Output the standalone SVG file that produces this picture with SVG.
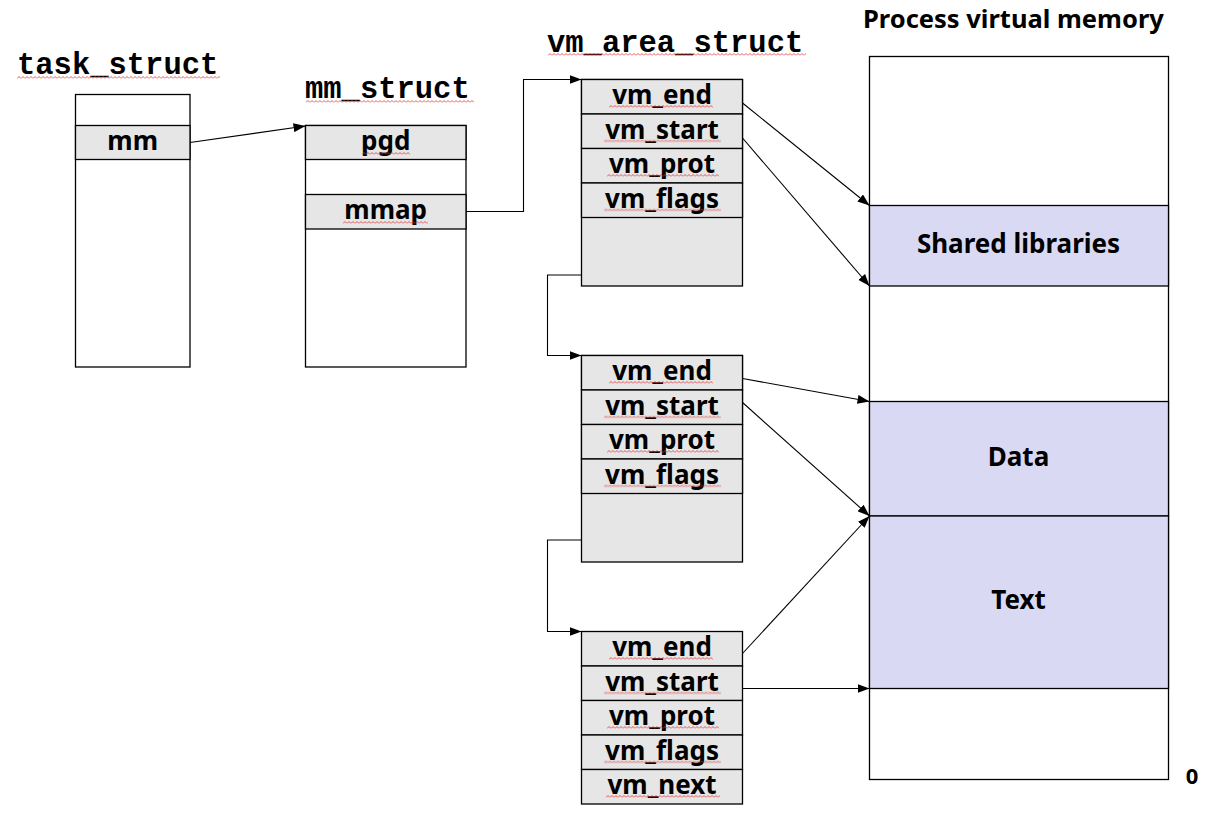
<svg xmlns="http://www.w3.org/2000/svg" xmlns:xlink="http://www.w3.org/1999/xlink" width="1221" height="819" viewBox="0 0 1221 819">
  <style>
    .cell { stroke: #000; stroke-width: 1.3; }
    .gray { fill: #e6e6e6; }
    .white { fill: #fff; }
    .seg { fill: #d9d9f4; }
    .title { font-family: "Liberation Mono", "Courier New", monospace; font-weight: bold; font-size: 30.5px; fill: #000; }
    .lbl { font-family: "Noto Sans", "Open Sans", sans-serif; font-weight: bold; font-size: 26px; fill: #000; text-anchor: middle; }
    .head { font-family: "Noto Sans", "Open Sans", sans-serif; font-weight: bold; font-size: 25.5px; fill: #000; }
    .conn { fill: none; stroke: #000; stroke-width: 1.1; }
    .sq { fill: url(#squiggle); }
  </style>
  <defs>
    <marker id="arrow" viewBox="0 0 12 9" refX="12" refY="4.5" markerWidth="12" markerHeight="9" markerUnits="userSpaceOnUse" orient="auto">
      <path d="M0,0 L12,4.5 L0,9 Z" fill="#000"/>
    </marker>
    <!-- spell-check style wavy underline -->
    <pattern id="squiggle" patternUnits="userSpaceOnUse" width="4" height="3">
      <path d="M0,2.5 L2,0.5 L4,2.5" fill="none" stroke="#e03030" stroke-width="0.8"/>
    </pattern>
    <rect id="row" width="161" height="34.5" class="cell gray"/>
  </defs>

  <rect width="1221" height="819" fill="#fff"/>

  <!-- titles -->
  <text class="title" x="17" y="74">task_struct</text>
  <g transform="translate(17,76)"><rect class="sq" width="203" height="3"/></g>
  <text class="title" x="305" y="98">mm_struct</text>
  <g transform="translate(306,100)"><rect class="sq" width="168" height="3"/></g>
  <text class="title" x="547" y="52">vm_area_struct</text>
  <g transform="translate(548,53)"><rect class="sq" width="258" height="3"/></g>
  <text class="head" x="863" y="28">Process virtual memory</text>

  <!-- task_struct -->
  <g id="task_struct">
    <rect class="cell white" x="75.5" y="94.5" width="114.5" height="272.5"/>
    <rect class="cell gray" x="75.5" y="125.5" width="114.5" height="34"/>
    <text class="lbl" x="132.7" y="150">mm</text>
  </g>

  <!-- mm_struct -->
  <g id="mm_struct">
    <rect class="cell white" x="305.5" y="125.5" width="160.5" height="241.5"/>
    <rect class="cell gray" x="305.5" y="125.5" width="160.5" height="34"/>
    <rect class="cell gray" x="305.5" y="194.5" width="160.5" height="34.5"/>
    <text class="lbl" x="385.7" y="150">pgd</text>
    <text class="lbl" x="385.7" y="219">mmap</text>
    <g transform="translate(362,152)"><rect class="sq" width="48" height="3"/></g>
    <g transform="translate(343,221)"><rect class="sq" width="85" height="3"/></g>
  </g>

  <!-- vm_area_struct #1 -->
  <g id="vma1">
    <rect class="cell gray" x="581.5" y="79.5" width="161" height="206.5"/>
    <use href="#row" x="581.5" y="79.5"/>
    <use href="#row" x="581.5" y="114"/>
    <use href="#row" x="581.5" y="148.5"/>
    <use href="#row" x="581.5" y="183"/>
    <text class="lbl" x="662" y="104">vm_end</text>
    <text class="lbl" x="662" y="138.5">vm_start</text>
    <text class="lbl" x="662" y="173">vm_prot</text>
    <text class="lbl" x="662" y="207.5">vm_flags</text>
    <g transform="translate(609,105)"><rect class="sq" width="104" height="3"/></g>
    <g transform="translate(604,139.5)"><rect class="sq" width="117" height="3"/></g>
    <g transform="translate(607,174)"><rect class="sq" width="112" height="3"/></g>
    <g transform="translate(604,208.5)"><rect class="sq" width="117" height="3"/></g>
  </g>

  <!-- vm_area_struct #2 -->
  <g id="vma2">
    <rect class="cell gray" x="581.5" y="355.5" width="161" height="206.5"/>
    <use href="#row" x="581.5" y="355.5"/>
    <use href="#row" x="581.5" y="390"/>
    <use href="#row" x="581.5" y="424.5"/>
    <use href="#row" x="581.5" y="459"/>
    <text class="lbl" x="662" y="380">vm_end</text>
    <text class="lbl" x="662" y="414.5">vm_start</text>
    <text class="lbl" x="662" y="449">vm_prot</text>
    <text class="lbl" x="662" y="483.5">vm_flags</text>
    <g transform="translate(609,381)"><rect class="sq" width="104" height="3"/></g>
    <g transform="translate(604,415.5)"><rect class="sq" width="117" height="3"/></g>
    <g transform="translate(607,450)"><rect class="sq" width="112" height="3"/></g>
    <g transform="translate(604,484.5)"><rect class="sq" width="117" height="3"/></g>
  </g>

  <!-- vm_area_struct #3 -->
  <g id="vma3">
    <use href="#row" x="581.5" y="631.5"/>
    <use href="#row" x="581.5" y="666"/>
    <use href="#row" x="581.5" y="700.5"/>
    <use href="#row" x="581.5" y="735"/>
    <use href="#row" x="581.5" y="769.5"/>
    <text class="lbl" x="662" y="656">vm_end</text>
    <text class="lbl" x="662" y="690.5">vm_start</text>
    <text class="lbl" x="662" y="725">vm_prot</text>
    <text class="lbl" x="662" y="759.5">vm_flags</text>
    <text class="lbl" x="662" y="794">vm_next</text>
    <g transform="translate(609,657)"><rect class="sq" width="104" height="3"/></g>
    <g transform="translate(604,691.5)"><rect class="sq" width="117" height="3"/></g>
    <g transform="translate(607,726)"><rect class="sq" width="112" height="3"/></g>
    <g transform="translate(604,760.5)"><rect class="sq" width="117" height="3"/></g>
    <g transform="translate(606,795)"><rect class="sq" width="114" height="3"/></g>
  </g>

  <!-- process virtual memory -->
  <g id="vmem">
    <rect class="cell white" x="869.5" y="56.5" width="299" height="723"/>
    <rect class="cell seg" x="869.5" y="205.5" width="299" height="80.5"/>
    <rect class="cell seg" x="869.5" y="401.5" width="299" height="114.5"/>
    <rect class="cell seg" x="869.5" y="516" width="299" height="172.5"/>
    <text class="lbl" x="1018.5" y="253">Shared libraries</text>
    <text class="lbl" x="1018.5" y="466">Data</text>
    <text class="lbl" x="1018.5" y="609">Text</text>
  </g>
  <text class="head" x="1192" y="784" text-anchor="middle" style="font-size:22px">0</text>

  <!-- connectors -->
  <g id="connectors">
    <path class="conn" d="M190,142.5 L305.5,126" marker-end="url(#arrow)"/>
    <path class="conn" d="M466,211.5 H523.5 V79.5 H581.5" marker-end="url(#arrow)"/>
    <path class="conn" d="M581.5,275 H547.5 V355.5 H581.5" marker-end="url(#arrow)"/>
    <path class="conn" d="M581.5,540 H547.5 V631.5 H581.5" marker-end="url(#arrow)"/>
    <path class="conn" d="M742.5,103 L869.5,205.5" marker-end="url(#arrow)"/>
    <path class="conn" d="M742.5,138 L869.5,286" marker-end="url(#arrow)"/>
    <path class="conn" d="M742.5,378.5 L869.5,401.5" marker-end="url(#arrow)"/>
    <path class="conn" d="M742.5,402.5 L869.5,516" marker-end="url(#arrow)"/>
    <path class="conn" d="M742.5,653.5 L869.5,516" marker-end="url(#arrow)"/>
    <path class="conn" d="M742.5,688.5 H869.5" marker-end="url(#arrow)"/>
  </g>
</svg>
